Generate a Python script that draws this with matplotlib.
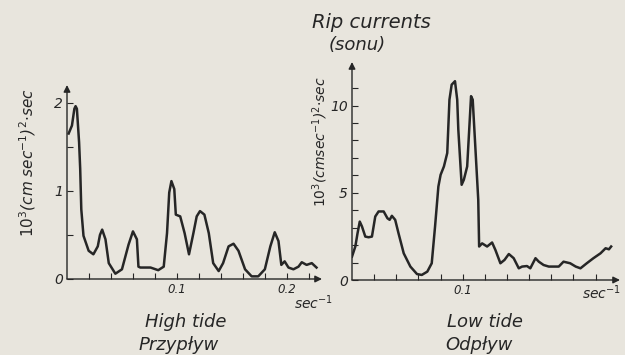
import matplotlib.pyplot as plt

# High tide spectrum (left panel)
high_freq = [0.0015, 0.0045, 0.0067, 0.0078, 0.009, 0.011, 0.012, 0.013, 0.015, 0.0197, 0.024,
             0.028, 0.030, 0.032, 0.035, 0.038, 0.044, 0.050, 0.056, 0.060, 0.0636, 0.065,
             0.0667, 0.076, 0.083, 0.088, 0.091, 0.093, 0.095, 0.0976, 0.099, 0.103,
             0.107, 0.111, 0.115, 0.118, 0.121, 0.125, 0.129, 0.133, 0.138, 0.142,
             0.147, 0.1515, 0.156, 0.162, 0.168, 0.174, 0.180, 0.185, 0.189, 0.1924,
             0.195, 0.198, 0.2015, 0.206, 0.2106, 0.2136, 0.218, 0.2227, 0.227]
high_energy = [1.65, 1.74, 1.93, 1.96, 1.93, 1.55, 1.25, 0.79, 0.49, 0.32, 0.28,
               0.37, 0.50, 0.56, 0.45, 0.18, 0.06, 0.11, 0.39, 0.54, 0.45, 0.14,
               0.13, 0.13, 0.10, 0.14, 0.52, 0.98, 1.11, 1.02, 0.73, 0.71,
               0.52, 0.28, 0.52, 0.71, 0.77, 0.73, 0.52, 0.18, 0.09, 0.18,
               0.37, 0.40, 0.32, 0.11, 0.03, 0.03, 0.11, 0.37, 0.53, 0.43,
               0.16, 0.20, 0.13, 0.11, 0.14, 0.19, 0.16, 0.18, 0.13]

# Low tide spectrum (right panel)
low_freq = [0.0, 0.003, 0.005, 0.007, 0.009, 0.012, 0.015, 0.018, 0.021, 0.024,
            0.0286, 0.032, 0.034, 0.036, 0.039, 0.042, 0.0467, 0.0527, 0.0587, 0.063,
            0.068, 0.072, 0.075, 0.078, 0.080, 0.083, 0.086, 0.088, 0.090, 0.093,
            0.095, 0.096, 0.099, 0.101, 0.104, 0.106, 0.1075, 0.109, 0.111, 0.114,
            0.1148, 0.1175, 0.122, 0.1265, 0.1295, 0.134, 0.1377, 0.1416, 0.146, 0.1506,
            0.1536, 0.158, 0.161, 0.1657, 0.1687, 0.173, 0.1777, 0.182, 0.1867, 0.191,
            0.197, 0.202, 0.2063, 0.212, 0.218, 0.2244, 0.229, 0.232, 0.234]
low_energy = [1.34, 1.92, 2.68, 3.35, 3.07, 2.49, 2.45, 2.49, 3.64, 3.93,
              3.93, 3.54, 3.45, 3.68, 3.45, 2.68, 1.53, 0.77, 0.34, 0.29,
              0.48, 0.96, 3.07, 5.36, 6.03, 6.51, 7.28, 10.34, 11.2, 11.4,
              10.34, 8.62, 5.46, 5.75, 6.51, 8.81, 10.54, 10.34, 8.05, 4.6,
              1.92, 2.1, 1.92, 2.15, 1.72, 0.96, 1.15, 1.49, 1.25, 0.67,
              0.77, 0.80, 0.67, 1.25, 1.05, 0.86, 0.77, 0.77, 0.77, 1.05,
              0.96, 0.77, 0.67, 0.96, 1.25, 1.53, 1.82, 1.76, 1.92]

bg = "#e8e5dd"
ink = "#262626"

W, H = 625, 355
fig = plt.figure(figsize=(6.25, 3.55), dpi=100, facecolor=bg)


def make_axes(x0, y0, x1, y1):
    # pixel box -> figure fraction
    return fig.add_axes([x0 / W, 1 - y0 / H, (x1 - x0) / W, (y0 - y1) / H])


def label(x, y, s, size=13, **kw):
    fig.text(x / W, 1 - y / H, s, ha="center", va="center", fontsize=size,
             fontstyle="italic", color=ink, **kw)


def style(ax, xmax, ymax):
    ax.set_facecolor(bg)
    ax.set_xlim(0, xmax)
    ax.set_ylim(0, ymax)
    for s in ax.spines.values():
        s.set_visible(False)
    for tip in [(0, 1.0), (1.0, 0)]:
        ax.annotate("", xy=tip, xytext=(0, 0), xycoords="axes fraction",
                    arrowprops=dict(arrowstyle="-|>", color=ink, lw=1.0,
                                    mutation_scale=10, shrinkA=0, shrinkB=0))
    ax.tick_params(direction="in", length=4, width=0.8, colors=ink,
                   labelsize=8.5, pad=3)
    ax.tick_params(which="minor", direction="in", length=4, width=0.8, colors=ink)


xt = [0.02 * i for i in range(1, 12)]
xtl_left = ["0.1" if i == 5 else ("0.2" if i == 10 else "") for i in range(1, 12)]
xtl_right = ["0.1" if i == 5 else "" for i in range(1, 12)]

# left panel
ax1 = make_axes(67, 279, 322, 85)
style(ax1, 0.232, 2.2)
ax1.plot(high_freq, high_energy, color=ink, lw=1.8, solid_joinstyle="round")
ax1.set_xticks(xt, xtl_left, fontstyle="italic")
ax1.set_yticks([0, 1, 2], ["0", "1", "2"], fontstyle="italic", fontsize=10)
ax1.set_yticks([0.5, 1.5], minor=True)
label(313, 303, "sec$^{-1}$", size=10)
label(28, 163, r"$10^3$(cm sec$^{-1}$)$^2$$\cdot$sec", size=11, rotation=90)
label(186, 322, "High tide")
label(179, 345, "Przypływ")

# right panel
ax2 = make_axes(352, 280, 620, 62)
style(ax2, 0.242, 12.5)
ax2.plot(low_freq, low_energy, color=ink, lw=1.8, solid_joinstyle="round")
ax2.set_xticks(xt, xtl_right, fontstyle="italic")
ax2.set_yticks([0, 5, 10], ["0", "5", "10"], fontstyle="italic", fontsize=10)
ax2.set_yticks([1, 2, 3, 4, 6, 7, 8, 9, 11], minor=True)
label(601, 293, "sec$^{-1}$", size=10)
label(320, 142, r"$10^3$(cmsec$^{-1}$)$^2$$\cdot$sec", size=10, rotation=90)
label(371, 23, "Rip currents", size=14)
label(357, 45, "(sonu)", size=13)
label(485, 322, "Low tide")
label(479, 345, "Odpływ")

fig.savefig("out.png", dpi=100, facecolor=bg)
plt.close()
